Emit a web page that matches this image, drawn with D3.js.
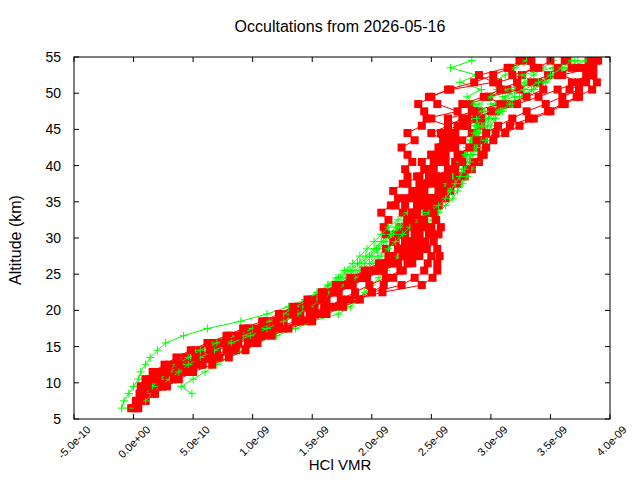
<!DOCTYPE html>
<html>
<head>
<meta charset="utf-8">
<script src="https://cdn.jsdelivr.net/npm/d3@7"></script>
<style>
  body { margin: 0; background: #fff; }
  text { font-family: "Liberation Sans", Arial, sans-serif; fill: #000; }
</style>
</head>
<body>
<div id="chart"></div>
<script>
// HCl VMR values are in units of 1e-9 (ppbv); null = no retrieval at that level
const altitudes = [6.5, 7.5, 8.5, 9.5, 10.5, 11.5, 12.5, 13.5, 14.5, 15.5, 16.5, 17.5, 18.5,
  19.5, 20.5, 21.5, 22.5, 23.5, 24.5, 25.5, 26.5, 27.5, 28.5, 29.5, 30.5,
  31.5, 32.5, 33.5, 34.5, 35.5, 36.5, 37.5, 38.5, 39.5, 40.5, 41.5, 42.5,
  43.5, 44.5, 45.5, 46.5, 47.5, 48.5, 49.5, 50.5, 51.5, 52.5, 53.5, 54.5];

const redProfiles = [
  [0.00, 0.02, 0.05, 0.08, 0.14, 0.18, 0.30, 0.42, 0.52, 0.66, 0.80, 0.96, 1.14,
   1.30, 1.44, 1.56, 1.66, 1.78, 1.90, 2.02, 2.12, 2.18, 2.22, 2.28, 2.20,
   2.24, 2.30, 2.26, 2.20, 2.28, 2.34, 2.30, 2.38, 2.46, 2.42, 2.50, 2.56,
   2.62, 2.70, 2.64, 2.76, 2.90, 2.82, 2.98, 3.14, 3.06, 3.26, 3.36, 3.30],
  [null, 0.06, 0.14, 0.24, 0.32, 0.46, 0.58, 0.72, 0.86, 0.98, 1.10, 1.26, 1.44,
   1.58, 1.70, 1.86, 2.09, 2.42, 2.51, 2.55, 2.55, 2.57, 2.55, 2.52, 2.56,
   2.58, 2.54, 2.50, 2.56, 2.62, 2.66, 2.72, 2.78, 2.84, 2.90, 2.94, 2.88,
   2.94, 3.04, 3.16, 3.32, 3.48, 3.60, 3.72, 3.85, 3.89, 3.80, 3.86, 3.82],
  [0.04, 0.10, 0.16, 0.20, 0.30, 0.38, 0.50, 0.64, 0.78, 0.88, 1.02, 1.18, 1.36,
   1.48, 1.60, 1.80, 2.00, 2.25, 2.36, 2.44, 2.47, 2.50, 2.46, 2.42, 2.48,
   2.44, 2.40, 2.46, 2.52, 2.48, 2.56, 2.60, 2.54, 2.64, 2.70, 2.76, 2.68,
   2.76, 2.84, 2.92, 2.80, 3.04, 3.22, 3.40, 3.56, 3.74, 3.60, 3.84, 3.90],
  [0.02, 0.04, 0.12, 0.18, 0.26, 0.34, 0.46, 0.60, 0.70, 0.84, 0.98, 1.12, 1.26,
   1.40, 1.52, 1.62, 1.72, 1.84, 1.96, 2.08, 2.20, 2.26, 2.30, 2.18, 2.12,
   2.10, 2.14, 2.08, 2.16, 2.22, 2.18, 2.26, 2.30, 2.28, 2.34, 2.30, 2.25,
   2.36, 2.30, 2.42, 2.50, 2.44, 2.39, 2.50, 2.64, 2.86, 3.02, 3.16, 3.24],
  [null, null, 0.10, 0.16, 0.22, 0.30, 0.42, 0.55, 0.68, 0.80, 0.92, 1.08, 1.22,
   1.36, 1.48, 1.60, 1.72, 1.82, 1.94, 2.10, 2.22, 2.30, 2.40, 2.34, 2.28,
   2.34, 2.30, 2.36, 2.40, 2.36, 2.44, 2.40, 2.48, 2.52, 2.56, 2.62, 2.58,
   2.70, 2.64, 2.80, 2.92, 2.84, 3.08, 2.98, 3.24, 3.34, 3.48, 3.56, 3.64],
  [-0.02, 0.02, 0.06, 0.10, 0.16, 0.24, 0.34, 0.44, 0.56, 0.70, 0.84, 0.98, 1.12,
   1.26, 1.38, 1.50, 1.60, 1.72, 1.86, 1.98, 2.10, 2.16, 2.12, 2.20, 2.26,
   2.30, 2.36, 2.32, 2.28, 2.34, 2.40, 2.46, 2.50, 2.44, 2.52, 2.58, 2.64,
   2.60, 2.70, 2.78, 2.88, 3.00, 3.14, 3.30, 3.44, 3.40, 3.56, 3.68, 3.62],
  [null, 0.10, 0.18, 0.28, 0.38, 0.50, 0.66, 0.80, 0.94, 1.04, 1.16, 1.30, 1.50,
   1.62, 1.76, 1.90, 2.00, 2.10, 2.18, 2.26, 2.34, 2.40, 2.46, 2.40, 2.52,
   2.50, 2.54, 2.48, 2.56, 2.60, 2.58, 2.66, 2.72, 2.80, 2.86, 2.92, 2.96,
   3.02, 3.12, 3.24, 3.36, 3.50, 3.62, 3.74, 3.66, 3.80, 3.86, 3.74, 3.84],
  [null, null, null, 0.06, 0.10, 0.16, 0.26, 0.36, 0.48, 0.62, 0.78, 0.92, 1.08,
   1.22, 1.34, 1.46, 1.58, 1.70, 1.82, 1.94, 2.06, 2.14, 2.24, 2.32, 2.40,
   2.36, 2.30, 2.34, 2.38, 2.42, 2.38, 2.44, 2.40, 2.48, 2.54, 2.50, 2.58,
   2.66, 2.58, 2.72, 2.64, 2.86, 2.76, 2.94, 3.08, 3.22, 3.18, 3.40, 3.50],
  [0.03, 0.05, 0.08, 0.12, 0.20, 0.28, 0.38, 0.52, 0.64, 0.76, 0.88, 1.04, 1.20,
   1.34, 1.46, 1.58, 1.68, 1.80, 1.92, 2.04, 2.16, 2.26, 2.34, 2.28, 2.36,
   2.40, 2.44, 2.38, 2.42, 2.48, 2.44, 2.52, 2.58, 2.50, 2.62, 2.56, 2.70,
   2.60, 2.50, 2.64, 2.46, 2.72, 2.55, 2.48, 2.66, 3.02, 2.90, 3.14, 3.34],
  [null, null, 0.18, 0.24, 0.34, 0.44, 0.56, 0.70, 0.84, 0.96, 1.06, 1.22, 1.40,
   1.52, 1.64, 1.74, 1.86, 1.98, 2.12, 2.24, 2.30, 2.34, 2.38, 2.45, 2.40,
   2.46, 2.42, 2.52, 2.48, 2.54, 2.60, 2.56, 2.64, 2.70, 2.76, 2.72, 2.82,
   2.88, 2.96, 3.06, 3.18, 3.30, 3.46, 3.60, 3.74, 3.68, 3.82, 3.78, 3.88]
];

const greenProfiles = [
  [-0.10, -0.08, -0.04, 0.00, 0.04, 0.06, 0.10, 0.14, 0.20, 0.27, 0.42, 0.62, 0.90,
   1.12, 1.30, 1.44, 1.54, 1.64, 1.72, 1.80, 1.88, 1.95, 2.02, 2.08, 2.14,
   2.20, 2.28, 2.36, 2.44, 2.50, 2.56, 2.62, 2.66, 2.70, 2.74, 2.77, 2.80,
   2.84, 2.86, 2.88, 2.84, 2.92, 2.86, 2.80, 2.92, 2.74, 2.88, 2.66, 2.84],
  [null, null, 0.49, 0.40, 0.50, 0.60, 0.70, 0.80, 0.92, 1.04, 1.20, 1.36, 1.50,
   1.72, 1.82, 1.88, 1.94, 2.00, 2.06, 2.12, 2.18, 2.22, 2.26, 2.30, 2.36,
   2.44, 2.50, 2.56, 2.62, 2.68, 2.72, 2.76, 2.80, 2.84, 2.88, 2.90, 2.93,
   2.96, 2.98, 3.00, 3.04, 3.10, 3.18, 3.26, 3.36, 3.46, 3.56, 3.66, 3.73],
  [0.02, 0.08, 0.14, 0.20, 0.26, 0.34, 0.42, 0.52, 0.64, 0.78, 0.94, 1.08, 1.22,
   1.34, 1.44, 1.54, 1.64, 1.74, 1.82, 1.90, 1.98, 2.05, 2.11, 2.18, 2.24,
   2.30, 2.38, 2.46, 2.54, 2.60, 2.64, 2.68, 2.72, 2.76, 2.80, 2.83, 2.86,
   2.88, 2.90, 2.94, 2.92, 2.98, 3.04, 3.12, 3.20, 3.28, 3.36, 3.44, 3.52],
  [null, 0.04, 0.10, 0.16, 0.20, 0.26, 0.34, 0.42, 0.52, 0.64, 0.80, 0.96, 1.12,
   1.24, 1.36, 1.46, 1.56, 1.66, 1.74, 1.82, 1.90, 1.98, 2.04, 2.10, 2.16,
   2.22, 2.30, 2.38, 2.46, 2.54, 2.60, 2.64, 2.68, 2.72, 2.76, 2.80, 2.82,
   2.86, 2.90, 2.86, 2.96, 3.06, 3.00, 3.20, 3.12, 3.36, 3.26, 3.52, 3.70],
  [-0.04, 0.02, 0.08, 0.14, 0.22, 0.30, 0.40, 0.50, 0.62, 0.76, 0.92, 1.06, 1.20,
   1.32, 1.42, 1.52, 1.62, 1.70, 1.78, 1.86, 1.94, 2.00, 2.06, 2.12, 2.18,
   2.24, 2.32, 2.40, 2.48, 2.55, 2.60, 2.64, 2.68, 2.72, 2.76, 2.79, 2.82,
   2.85, 2.88, 2.92, 2.98, 3.06, 3.14, 3.24, 3.34, 3.44, 3.54, 3.64, 3.80],
  [0.00, 0.05, 0.10, 0.16, 0.22, 0.28, 0.36, 0.46, 0.56, 0.70, 0.86, 1.00, 1.14,
   1.26, 1.36, 1.46, 1.55, 1.63, 1.70, 1.77, 1.84, 1.90, 1.96, 2.02, 2.08,
   2.14, 2.22, 2.30, 2.40, 2.50, 2.58, 2.63, 2.67, 2.70, 2.74, 2.78, 2.80,
   2.83, 2.86, 2.90, 2.88, 2.95, 2.90, 3.00, 3.05, 3.02, 3.12, 3.20, 3.30],
  [null, 0.10, 0.16, 0.22, 0.30, 0.38, 0.46, 0.56, 0.68, 0.82, 0.98, 1.12, 1.26,
   1.38, 1.48, 1.58, 1.68, 1.78, 1.86, 1.94, 2.01, 2.08, 2.14, 2.20, 2.26,
   2.32, 2.40, 2.48, 2.56, 2.62, 2.66, 2.70, 2.74, 2.78, 2.82, 2.85, 2.88,
   2.91, 2.94, 2.97, 3.02, 3.08, 3.16, 3.10, 3.28, 3.40, 3.50, 3.60, 3.68]
];

const xTickValues = [-0.5, 0, 0.5, 1.0, 1.5, 2.0, 2.5, 3.0, 3.5, 4.0];
const xTickLabels = ["-5.0e-10", "0.0e+00", "5.0e-10", "1.0e-09", "1.5e-09",
  "2.0e-09", "2.5e-09", "3.0e-09", "3.5e-09", "4.0e-09"];
const yTickValues = [5, 10, 15, 20, 25, 30, 35, 40, 45, 50, 55];

function renderProfiles() {
  const margin = { top: 57, right: 30, bottom: 61, left: 74 };
  const width = 640 - margin.left - margin.right;
  const height = 480 - margin.top - margin.bottom;

  const svg = d3.select("#chart").html("").append("svg")
    .attr("width", 640)
    .attr("height", 480);

  const g = svg.append("g")
    .attr("transform", "translate(" + margin.left + "," + margin.top + ")");

  const x = d3.scaleLinear().domain([-0.5, 4.0]).range([0, width]);
  const y = d3.scaleLinear().domain([5, 55]).range([height, 0]);

  g.append("clipPath").attr("id", "plotclip")
    .append("rect").attr("width", width).attr("height", height);

  const plot = g.append("g").attr("clip-path", "url(#plotclip)");

  const line = d3.line()
    .defined(d => d.v != null)
    .x(d => x(d.v))
    .y(d => y(d.alt));

  const toPoints = vals => vals.map((v, i) => ({ alt: altitudes[i], v: v }));

  // red and green profiles are drawn one after the other, like the original plot
  const n = Math.max(redProfiles.length, greenProfiles.length);
  for (let i = 0; i < n; i++) {
    if (redProfiles[i]) {
      const pts = toPoints(redProfiles[i]);
      plot.append("path").datum(pts)
        .attr("d", line)
        .attr("fill", "none")
        .attr("stroke", "#ff0000")
        .attr("stroke-width", 1);
      plot.selectAll(null).data(pts.filter(d => d.v != null))
        .enter().append("rect")
        .attr("x", d => x(d.v) - 4)
        .attr("y", d => y(d.alt) - 4)
        .attr("width", 8)
        .attr("height", 8)
        .attr("fill", "#ff0000");
    }
    if (greenProfiles[i]) {
      const pts = toPoints(greenProfiles[i]);
      plot.append("path").datum(pts)
        .attr("d", line)
        .attr("fill", "none")
        .attr("stroke", "#00ff00")
        .attr("stroke-width", 1);
      plot.selectAll(null).data(pts.filter(d => d.v != null))
        .enter().append("path")
        .attr("d", d => {
          const px = x(d.v), py = y(d.alt);
          return "M" + (px - 4) + "," + py + "H" + (px + 4) +
                 "M" + px + "," + (py - 4) + "V" + (py + 4);
        })
        .attr("stroke", "#00ff00")
        .attr("stroke-width", 1);
    }
  }

  // frame
  g.append("rect")
    .attr("width", width).attr("height", height)
    .attr("fill", "none").attr("stroke", "#000").attr("stroke-width", 1);

  // ticks on all four sides, pointing inward
  const tickLen = 5;
  xTickValues.forEach(v => {
    g.append("line").attr("x1", x(v)).attr("x2", x(v))
      .attr("y1", height).attr("y2", height - tickLen).attr("stroke", "#000");
    g.append("line").attr("x1", x(v)).attr("x2", x(v))
      .attr("y1", 0).attr("y2", tickLen).attr("stroke", "#000");
  });
  yTickValues.forEach(v => {
    g.append("line").attr("x1", 0).attr("x2", tickLen)
      .attr("y1", y(v)).attr("y2", y(v)).attr("stroke", "#000");
    g.append("line").attr("x1", width).attr("x2", width - tickLen)
      .attr("y1", y(v)).attr("y2", y(v)).attr("stroke", "#000");
  });

  // tick labels
  g.selectAll(".ylab").data(yTickValues).enter().append("text")
    .attr("class", "ylab")
    .attr("x", -13)
    .attr("y", d => y(d))
    .attr("dy", "0.35em")
    .attr("text-anchor", "end")
    .style("font-size", "14px")
    .text(d => d);

  g.selectAll(".xlab").data(xTickValues).enter().append("text")
    .attr("class", "xlab")
    .attr("transform", d => "translate(" + (x(d) + 12) + "," + (height + 6) + ") rotate(-45)")
    .attr("dy", "0.7em")
    .attr("text-anchor", "end")
    .style("font-size", "11px")
    .text((d, i) => xTickLabels[i]);

  // titles
  svg.append("text")
    .attr("x", 340).attr("y", 32)
    .attr("text-anchor", "middle")
    .style("font-size", "16px")
    .text("Occultations from 2026-05-16");

  svg.append("text")
    .attr("x", 340).attr("y", 470)
    .attr("text-anchor", "middle")
    .style("font-size", "15px")
    .text("HCl VMR");

  svg.append("text")
    .attr("transform", "translate(21,240) rotate(-90)")
    .attr("text-anchor", "middle")
    .style("font-size", "16px")
    .text("Altitude (km)");
}

renderProfiles();
</script>
</body>
</html>
